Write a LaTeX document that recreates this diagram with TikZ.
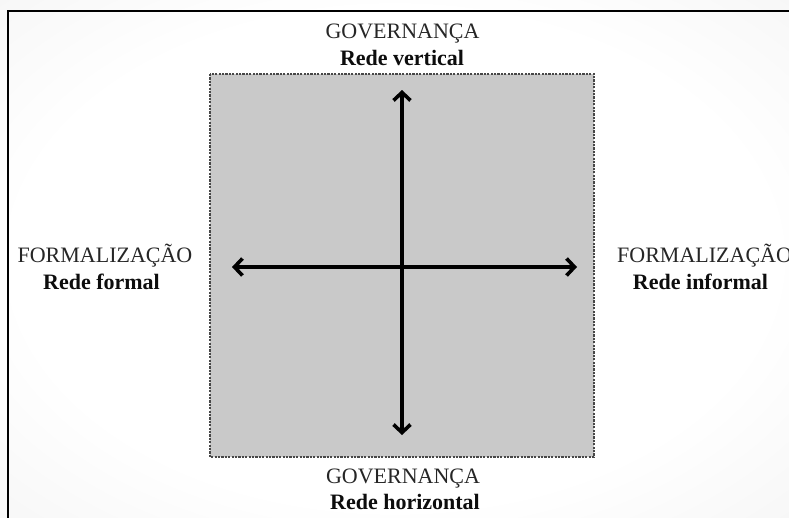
\documentclass[tikz,border=0pt]{standalone}
\usepackage{fontspec}
\setmainfont{Liberation Serif}
\usetikzlibrary{arrows.meta}
\definecolor{panelfill}{HTML}{C9C9C9}
\definecolor{paneledge}{HTML}{474747}
\definecolor{captext}{HTML}{262626}
\pgfdeclareradialshading{bgglow}{\pgfpoint{0bp}{0bp}}{color(0bp)=(white); color(24bp)=(white); color(50bp)=(black!7); color(72bp)=(black!10)}
\begin{document}
\begin{tikzpicture}[x=1pt,y=-1pt,
  caption/.style={anchor=base,inner sep=0pt,text=captext,font=\fontsize{22}{27}\selectfont},
  boldcaption/.style={anchor=base,inner sep=0pt,text=black!95,font=\fontsize{22}{27}\selectfont\bfseries},
  axis/.style={line width=3.8pt,black,{Straight Barb[length=8pt,width=17pt,line width=3.6pt]}-{Straight Barb[length=8pt,width=17pt,line width=3.6pt]}}]
  \useasboundingbox (0,0) rectangle (789,517);
  \clip (0,0) rectangle (789,517);
  % soft page background
  \shade[shading=bgglow] (0,0) rectangle (789,517);
  % frame edges
  \draw[line width=2pt,black] (8,520) -- (8,11) -- (792,11);
  % central panel
  \filldraw[fill=panelfill,draw=paneledge,line width=1.1pt,dash pattern=on 2.2pt off 1.2pt] (210,74) rectangle (594,457);
  % axis end points
  \coordinate (vtop) at (402,90);
  \coordinate (vbot) at (402,435);
  \coordinate (hleft) at (232,267);
  \coordinate (hright) at (577,267);
  \draw[axis] (vbot) -- (vtop);
  \draw[axis] (hleft) -- (hright);
  % labels
  \node[caption] (topA) at (402.5,38) {GOVERNANÇA};
  \node[boldcaption] (topB) at (402,65) {Rede vertical};
  \node[caption] (botA) at (403,483) {GOVERNANÇA};
  \node[boldcaption] (botB) at (405,509) {Rede horizontal};
  \node[caption] (leftA) at (105,262) {FORMALIZAÇÃO};
  \node[boldcaption] (leftB) at (101.5,289) {Rede formal};
  \node[caption,anchor=base west] (rightA) at (617,262) {FORMALIZAÇÃO};
  \node[boldcaption] (rightB) at (700.5,289) {Rede informal};
\end{tikzpicture}
\end{document}
